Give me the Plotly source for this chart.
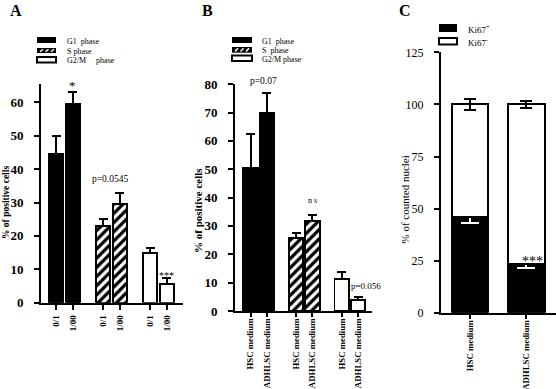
import plotly.graph_objects as go

W, H = 556, 389

# ---------------- data ----------------
# Panel A
a_phases = ["G1\u00a0\u00a0phase", "S phase", "G2/M\u00a0\u00a0\u00a0\u00a0\u00a0phase"]
a_ticklabels = ["0/1", "1/00"]
a_g1 = [44.5, 59.5]
a_g1_err = [5.5, 3.7]
a_s = [23.0, 29.5]
a_s_err = [2.0, 3.4]
a_g2m = [15.0, 5.5]
a_g2m_err = [1.3, 1.8]

# Panel B
b_phases = ["G1\u00a0\u00a0phase", "S\u00a0\u00a0phase", "G2/M phase"]
b_ticklabels = ["HSC medium", "ADHLSC medium"]
b_g1 = [50.6, 69.8]
b_g1_err = [11.7, 7.1]
b_s = [25.8, 31.7]
b_s_err = [1.8, 2.1]
b_g2m = [11.3, 3.8]
b_g2m_err = [2.5, 1.2]

# Panel C
c_categories = ["HSC medium", "ADHLSC medium"]
c_labels = ["Ki67<sup>+</sup>", "Ki67<sup>-</sup>"]
c_pos = [46.0, 23.3]
c_pos_err = [3.0, 2.0]
c_neg = [54.0, 76.7]
c_neg_err = [2.6, 1.8]

FONT = "Liberation Serif"


def px(x):
    return x / W


def py(y):
    return 1 - y / H


GROUP_STEP = 2.8


def positions(group):
    return [group * GROUP_STEP, group * GROUP_STEP + 1]


fig = go.Figure()

hatch = dict(shape="/", fgcolor="black", bgcolor="white", size=6.5, solidity=0.5, fillmode="replace")


def add_phase_bars(values, errs, group, style, xa, ya, width, name):
    marker = dict(color="black" if style == "solid" else "white",
                  line=dict(color="black", width=1.8))
    if style == "hatch":
        marker["pattern"] = hatch
    fig.add_trace(go.Bar(
        x=positions(group), y=values, width=width, marker=marker, name=name,
        xaxis=xa, yaxis=ya,
        error_y=dict(type="data", array=errs, arrayminus=[0] * len(errs), symmetric=False,
                     color="black", thickness=2, width=4.5),
    ))


# Panel A
add_phase_bars(a_g1, a_g1_err, 0, "solid", "x", "y", 0.86, a_phases[0])
add_phase_bars(a_s, a_s_err, 1, "hatch", "x", "y", 0.86, a_phases[1])
add_phase_bars(a_g2m, a_g2m_err, 2, "white", "x", "y", 0.86, a_phases[2])
# Panel B
add_phase_bars(b_g1, b_g1_err, 0, "solid", "x2", "y2", 0.89, b_phases[0])
add_phase_bars(b_s, b_s_err, 1, "hatch", "x2", "y2", 0.89, b_phases[1])
add_phase_bars(b_g2m, b_g2m_err, 2, "white", "x2", "y2", 0.89, b_phases[2])

# Panel C (stacked)
c_x = list(range(len(c_categories)))
fig.add_trace(go.Bar(
    x=c_x, y=c_pos, width=0.65, xaxis="x3", yaxis="y3", name="Ki67+",
    marker=dict(color="black", line=dict(color="black", width=2)),
    error_y=dict(type="data", array=[0] * len(c_pos_err), arrayminus=c_pos_err, symmetric=False,
                 color="white", thickness=2, width=9),
))
fig.add_trace(go.Bar(
    x=c_x, y=c_neg, width=0.65, xaxis="x3", yaxis="y3", name="Ki67-",
    marker=dict(color="white", line=dict(color="black", width=2)),
    error_y=dict(type="data", array=c_neg_err, color="black", thickness=2, width=6),
))

all_pos = positions(0) + positions(1) + positions(2)

axis_common = dict(showline=True, linecolor="black", linewidth=2, ticks="outside",
                   tickcolor="black", tickwidth=2, showgrid=False, zeroline=False,
                   automargin=False)

fig.update_layout(
    width=W, height=H, margin=dict(l=0, r=0, t=0, b=0, autoexpand=False),
    paper_bgcolor="white", plot_bgcolor="white", showlegend=False,
    barmode="stack", font=dict(family=FONT, color="black"),
    xaxis=dict(axis_common, domain=[px(41), px(183)], range=[-0.893, 7.56],
               tickmode="array", tickvals=all_pos, ticktext=a_ticklabels * 3,
               tickangle=-90, ticklen=5, ticklabelstandoff=2,
               tickfont=dict(family=FONT, size=9, weight="bold"), anchor="y"),
    yaxis=dict(axis_common, domain=[py(302.7), py(84)], range=[0, 65.5], dtick=10,
               ticklen=5, ticklabelstandoff=8, tickfont=dict(family=FONT, size=13, weight="bold"),
               anchor="x"),
    xaxis2=dict(axis_common, domain=[px(235), px(372)], range=[-0.951, 7.454],
                tickmode="array", tickvals=all_pos, ticktext=b_ticklabels * 3,
                tickangle=-90, ticklen=4, ticklabelstandoff=-2,
                tickfont=dict(family=FONT, size=8.8, weight="bold"), anchor="y2"),
    yaxis2=dict(axis_common, domain=[py(311), py(84)], range=[0, 80.05], dtick=10,
                ticklen=5, ticklabelstandoff=8, tickfont=dict(family=FONT, size=13, weight="bold"),
                anchor="x2"),
    xaxis3=dict(axis_common, domain=[px(441), px(556)], range=[-0.515, 1.527],
                tickmode="array", tickvals=c_x, ticktext=c_categories,
                tickangle=-90, ticklen=4, ticklabelstandoff=-2,
                tickfont=dict(family=FONT, size=8.8, weight="bold"), anchor="y3"),
    yaxis3=dict(axis_common, domain=[py(312.7), py(52.3)], range=[0, 125.05], dtick=25,
                ticklen=5, ticklabelstandoff=8, tickfont=dict(family=FONT, size=12),
                anchor="x3"),
)

ann = []
shapes = []


def label(text, x, y, size, bold=False, xanchor="center", angle=0):
    ann.append(dict(text=text, x=px(x), y=py(y), xref="paper", yref="paper", showarrow=False,
                    xanchor=xanchor, yanchor="middle", textangle=angle,
                    font=dict(family=FONT, size=size, color="black",
                              weight="bold" if bold else "normal")))


# panel letters
label("A", 16, 11, 16, True)
label("B", 207, 10, 16, True)
label("C", 405, 10, 16, True)

# y titles
label("% of positive cells", 6, 203, 9.5, True, angle=-90)
label("% of positive cells", 198, 211, 11, True, angle=-90)
label("% of counted nuclei", 404.5, 200, 11, False, angle=-90)


def legend_block(x0, x1, tx, rows, names, size):
    for (y0, y1, style), name in zip(rows, names):
        if style == "white":
            shapes.append(dict(type="rect", xref="paper", yref="paper", x0=px(x0), x1=px(x1),
                               y0=py(y1), y1=py(y0), fillcolor="white",
                               line=dict(color="black", width=2)))
        else:
            shapes.append(dict(type="rect", xref="paper", yref="paper", x0=px(x0), x1=px(x1),
                               y0=py(y1), y1=py(y0), fillcolor="black",
                               line=dict(color="black", width=0)))
            if style == "hatch":
                path = ""
                for k in range(3):
                    bx = x0 + 3 + k * 5.5
                    path += f"M{px(bx)},{py(y1 - 1.2)} L{px(bx + 3)},{py(y0 + 1.2)} "
                shapes.append(dict(type="path", xref="paper", yref="paper", path=path,
                                   line=dict(color="white", width=1.5)))
        label(name, tx, (y0 + y1) / 2 + 1, size, xanchor="left")


legend_block(37, 56, 65, [(37, 43, "solid"), (48, 53, "hatch"), (57, 62.5, "white")], a_phases, 8)
legend_block(232, 252, 260, [(37, 43, "solid"), (47, 52.7, "hatch"), (55.5, 61, "white")], b_phases, 8)
legend_block(439, 457, 466, [(24, 32, "solid"), (38, 44.5, "white")], c_labels, 9)


def data_label(text, x, y, xa, ya, size, xanchor="center"):
    ann.append(dict(text=text, x=x, y=y, xref=xa, yref=ya, showarrow=False,
                    xanchor=xanchor, yanchor="middle",
                    font=dict(family=FONT, size=size, color="black")))


pa = all_pos
data_label("*", pa[1], a_g1[1] + a_g1_err[1] + 2, "x", "y", 13)
data_label("p=0.0545", (pa[2] + pa[3]) / 2 - 0.1, 37.0, "x", "y", 9.5)
data_label("***", pa[5], a_g2m[1] + a_g2m_err[1] + 0.8, "x", "y", 10)
# above the top of the y range, so placed in paper coordinates
ann.append(dict(text="p=0.07", x=(pa[0] + pa[1]) / 2 + 0.3, y=py(81), xref="x2", yref="paper",
                showarrow=False, xanchor="center", yanchor="middle",
                font=dict(family=FONT, size=9.5, color="black")))
data_label("n s", pa[3], 39.0, "x2", "y2", 8)
data_label("p=0.056", pa[4] + 0.44, 8.8, "x2", "y2", 9, xanchor="left")
data_label("***", c_x[1] + 0.11, c_pos[1] + 1.2, "x3", "y3", 14)

fig.update_layout(annotations=ann, shapes=shapes)
# the page's default 8px body margin would shift the figure; remove it
fig.write_html("out.html", config={"displayModeBar": False},
               post_script="document.body.style.margin='0';")
